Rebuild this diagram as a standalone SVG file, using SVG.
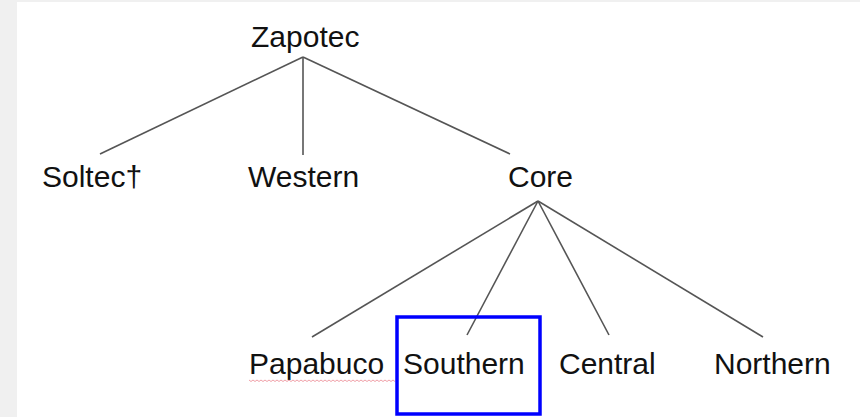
<svg xmlns="http://www.w3.org/2000/svg" width="860" height="417" viewBox="0 0 860 417">
<style>
.t{font-family:"Liberation Sans",Arial,sans-serif;font-size:30px;fill:#111}
.e{stroke:#555;stroke-width:1.6;fill:none}
</style>
<rect x="0" y="0" width="860" height="417" fill="#ffffff"/>
<rect x="0" y="0" width="17" height="417" fill="#f0f0f0"/>
<rect x="0" y="0" width="860" height="2" fill="#f0f0f0"/>
<g id="connectors">
<line class="e" x1="303" y1="57" x2="100" y2="154"/>
<line class="e" x1="303" y1="57" x2="303" y2="155"/>
<line class="e" x1="303" y1="57" x2="510" y2="154"/>
<line class="e" x1="538" y1="201" x2="312" y2="337"/>
<line class="e" x1="538" y1="201" x2="467" y2="335"/>
<line class="e" x1="538" y1="201" x2="609" y2="335"/>
<line class="e" x1="538" y1="201" x2="763" y2="337"/>
</g>
<g id="zapotec"><text class="t" x="251" y="47">Zapotec</text></g>
<g id="soltec"><text class="t" x="42" y="187">Soltec†</text></g>
<g id="western"><text class="t" x="248" y="187">Western</text></g>
<g id="core"><text class="t" x="508" y="187">Core</text></g>
<g id="papabuco"><text class="t" x="249" y="374">Papabuco</text>
<path d="M249 380 l2 1.5 l2 -1.5 l2 1.5 l2 -1.5 l2 1.5 l2 -1.5 l2 1.5 l2 -1.5 l2 1.5 l2 -1.5 l2 1.5 l2 -1.5 l2 1.5 l2 -1.5 l2 1.5 l2 -1.5 l2 1.5 l2 -1.5 l2 1.5 l2 -1.5 l2 1.5 l2 -1.5 l2 1.5 l2 -1.5 l2 1.5 l2 -1.5 l2 1.5 l2 -1.5 l2 1.5 l2 -1.5 l2 1.5 l2 -1.5 l2 1.5 l2 -1.5 l2 1.5 l2 -1.5 l2 1.5 l2 -1.5 l2 1.5 l2 -1.5 l2 1.5 l2 -1.5 l2 1.5 l2 -1.5 l2 1.5 l2 -1.5 l2 1.5 l2 -1.5 l2 1.5 l2 -1.5 l2 1.5 l2 -1.5 l2 1.5 l2 -1.5 l2 1.5 l2 -1.5 l2 1.5 l2 -1.5 l2 1.5 l2 -1.5 l2 1.5 l2 -1.5 l2 1.5 l2 -1.5 l2 1.5 l2 -1.5 l2 1.5 l2 -1.5 l2 1.5 l2 -1.5 l2 1.5 l2 -1.5 l2 1.5" fill="none" stroke="#f0a0a8" stroke-width="1"/></g>
<g id="southern"><text class="t" x="403" y="374">Southern</text>
<rect x="397" y="317" width="143" height="97" fill="none" stroke="#0000ff" stroke-width="3.5"/></g>
<g id="central"><text class="t" x="559" y="374">Central</text></g>
<g id="northern"><text class="t" x="714" y="374">Northern</text></g>
</svg>
